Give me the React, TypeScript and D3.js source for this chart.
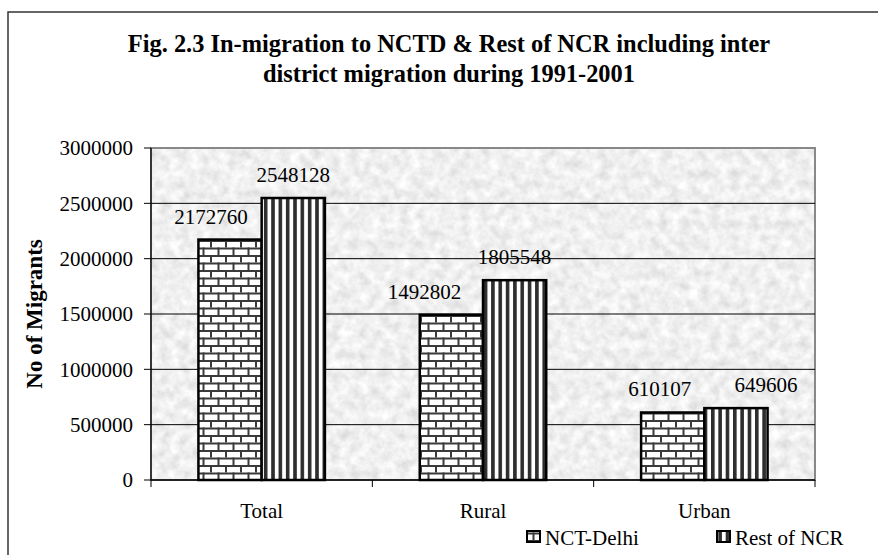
import React from "react";
import * as d3 from "d3";

// Migration figures, 1991-2001
const categories = ["Total", "Rural", "Urban"];
const seriesNames = ["NCT-Delhi", "Rest of NCR"];
const nctDelhi = [2172760, 1492802, 610107];
const restOfNcr = [2548128, 1805548, 649606];
const yTicks = [0, 500000, 1000000, 1500000, 2000000, 2500000, 3000000];
const titleLines = [
  "Fig. 2.3 In-migration to NCTD & Rest of NCR including inter",
  "district migration during 1991-2001",
];
const yTitle = "No of Migrants";

// horizontal nudges of the value labels (per series, per category)
const labelShift = [
  [-19, -27, -13],
  [0, 0, 30],
];

const W = 878;
const H = 555;
const plot = { left: 151, right: 815, top: 148, bottom: 480 };
const FONT = "'Liberation Serif', 'Times New Roman', serif";

export default function App() {
  const x0 = d3.scaleBand<string>().domain(categories).range([plot.left, plot.right]).padding(0);
  const bw = x0.bandwidth();
  const groupW = bw * (2 / 3.5);
  const x1 = d3.scaleBand<string>().domain(seriesNames).range([0, groupW]).padding(0);
  const y = d3.scaleLinear().domain([0, 3000000]).range([plot.bottom, plot.top]);
  const series = [nctDelhi, restOfNcr];
  const fills = ["url(#brick)", "url(#stripes)"];

  const legendItems = [
    { name: seriesNames[0], fill: fills[0], x: 527 },
    { name: seriesNames[1], fill: fills[1], x: 717 },
  ];

  return (
    <svg
      width={W}
      height={H}
      style={{ position: "fixed", left: 0, top: 0, background: "#fff" }}
      fontFamily={FONT}
    >
      <defs>
        <filter id="granite" x="0" y="0" width="100%" height="100%">
          <feTurbulence type="fractalNoise" baseFrequency="0.1" numOctaves={4} seed={7} result="n" />
          <feColorMatrix
            in="n"
            type="matrix"
            values="0.42 0 0 0 0.66  0.42 0 0 0 0.66  0.42 0 0 0 0.66  0 0 0 0 1"
          />
        </filter>
        <pattern id="brick" patternUnits="userSpaceOnUse" width={15} height={15}>
          <rect width={15} height={15} fill="#fff" />
          <rect x={0} y={0} width={15} height={2} fill="#3a3a3a" />
          <rect x={0} y={7.5} width={15} height={2} fill="#3a3a3a" />
          <rect x={0} y={0} width={2} height={7.5} fill="#3a3a3a" />
          <rect x={7.5} y={7.5} width={2} height={7.5} fill="#3a3a3a" />
        </pattern>
        <pattern id="stripes" patternUnits="userSpaceOnUse" width={7.33} height={10}>
          <rect width={7.33} height={10} fill="#fff" />
          <rect x={0} y={0} width={3.6} height={10} fill="#2e2e2e" />
        </pattern>
      </defs>

      {/* outer frame */}
      <rect x={8} y={12} width={W} height={H} fill="none" stroke="#333" strokeWidth={1.5} />

      {/* title */}
      {titleLines.map((t, i) => (
        <text key={i} x={449} y={52 + i * 30} textAnchor="middle" fontWeight="bold" fontSize={24.4}>
          {t}
        </text>
      ))}

      {/* plot background */}
      <rect
        x={plot.left}
        y={plot.top}
        width={plot.right - plot.left}
        height={plot.bottom - plot.top}
        filter="url(#granite)"
      />
      <rect
        x={plot.left}
        y={plot.top}
        width={plot.right - plot.left}
        height={plot.bottom - plot.top}
        fill="none"
        stroke="#888"
        strokeWidth={2}
      />

      {/* grid lines */}
      {yTicks.slice(1, -1).map((t) => (
        <line key={t} x1={plot.left} x2={plot.right} y1={y(t)} y2={y(t)} stroke="#000" strokeWidth={1} />
      ))}

      {/* y axis */}
      <line x1={plot.left} x2={plot.left} y1={plot.top} y2={plot.bottom} stroke="#000" strokeWidth={1.2} />
      {yTicks.map((t) => (
        <g key={t}>
          <line x1={plot.left - 7} x2={plot.left} y1={y(t)} y2={y(t)} stroke="#000" strokeWidth={1} />
          <text x={133} y={y(t)} dy="0.35em" textAnchor="end" fontSize={21}>
            {t}
          </text>
        </g>
      ))}
      <text
        transform={`translate(42,${(plot.top + plot.bottom) / 2}) rotate(-90)`}
        textAnchor="middle"
        fontWeight="bold"
        fontSize={23}
      >
        {yTitle}
      </text>

      {/* bars */}
      {categories.map((c, ci) => {
        const gx = (x0(c) ?? 0) + (bw - groupW) / 2;
        return (
          <g key={c}>
            {series.map((vals, si) => {
              const bx = gx + (x1(seriesNames[si]) ?? 0);
              const top = y(vals[ci]);
              return (
                <g key={si}>
                  <rect
                    x={bx}
                    y={top}
                    width={x1.bandwidth()}
                    height={plot.bottom - top}
                    fill={fills[si]}
                    stroke="#000"
                    strokeWidth={2.5}
                  />
                  <text
                    x={bx + x1.bandwidth() / 2 + labelShift[si][ci]}
                    y={top - 16}
                    textAnchor="middle"
                    fontSize={21}
                  >
                    {vals[ci]}
                  </text>
                </g>
              );
            })}
          </g>
        );
      })}

      {/* x axis */}
      <line x1={plot.left} x2={plot.right} y1={plot.bottom} y2={plot.bottom} stroke="#000" strokeWidth={1.5} />
      {[...categories.map((c) => x0(c) ?? 0), plot.right].map((xv, i) => (
        <line key={i} x1={xv} x2={xv} y1={plot.bottom} y2={plot.bottom + 7} stroke="#000" strokeWidth={1} />
      ))}
      {categories.map((c) => (
        <text key={c} x={(x0(c) ?? 0) + bw / 2} y={518} textAnchor="middle" fontSize={21}>
          {c}
        </text>
      ))}

      {/* legend */}
      {legendItems.map((it) => (
        <g key={it.name}>
          <rect x={it.x} y={531} width={13} height={11} fill={it.fill} stroke="#000" strokeWidth={2} />
          <text x={it.x + 18} y={545} fontSize={21}>
            {it.name}
          </text>
        </g>
      ))}
    </svg>
  );
}
